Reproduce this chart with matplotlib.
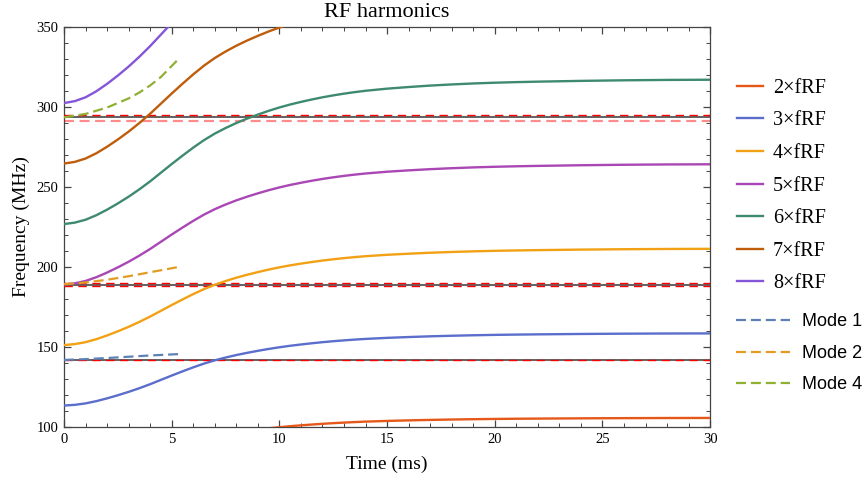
import matplotlib.pyplot as plt
from matplotlib.ticker import MultipleLocator
from matplotlib.lines import Line2D

# fundamental RF frequency (MHz) vs time (ms)
t_rf = [0, 0.5, 1, 1.5, 2, 2.5, 3, 3.5, 4, 4.5, 5, 5.5, 6, 6.5, 7, 7.5, 8, 8.5, 9, 9.5,
        10, 10.5, 11, 11.5, 12, 12.5, 13, 13.5, 14, 15, 16, 17, 18, 19, 20, 21, 22, 23,
        24, 25, 26, 27, 28, 29, 30]
f_rf = [37.80, 37.95, 38.25, 38.72, 39.30, 39.95, 40.65, 41.42, 42.25, 43.15, 44.05, 44.92,
        45.76, 46.54, 47.22, 47.80, 48.32, 48.78, 49.20, 49.59, 49.94, 50.25, 50.52, 50.77,
        51.00, 51.20, 51.38, 51.54, 51.68, 51.90, 52.07, 52.22, 52.34, 52.44, 52.52, 52.58,
        52.63, 52.67, 52.71, 52.74, 52.77, 52.79, 52.81, 52.82, 52.83]

harmonics = [2, 3, 4, 5, 6, 7, 8]
harm_colors = ['#E5581A', '#5B6ECB', '#F2A114', '#A947B5', '#3E8A6F', '#BF5D0B', '#8556D8']

# cavity modes (dashed)
mode_t = [0, 1, 2, 3, 4, 5.4]
mode1 = [141.9, 142.4, 143.1, 143.9, 144.7, 145.6]
mode2 = [189.2, 190.3, 192.0, 194.2, 196.7, 200.2]
mode4_t = [0, 1, 2, 3, 3.5, 4, 4.5, 5.25]
mode4 = [293.5, 295.6, 299.6, 305.3, 309.0, 313.4, 318.7, 329.0]
mode_names = ['Mode 1', 'Mode 2', 'Mode 4']
mode_colors = ['#5E81B5', '#E19C24', '#8FB032']

# horizontal reference levels (MHz)
gray_levels = [141.9, 189.0, 293.5]
red_levels = [141.9, 188.3, 189.7, 295.0]
pink_levels = [291.4]

serif = 'Liberation Serif'

fig = plt.figure(figsize=(8.65, 4.8), dpi=100)
ax = fig.add_axes([0.074, 0.1104, 0.747, 0.8336])

for y in gray_levels:
    ax.axhline(y, color='#555555', lw=1.3, zorder=2)
for y in red_levels:
    ax.axhline(y, color='#FF0000', lw=1.0, dashes=(6, 4), zorder=3)
for y in pink_levels:
    ax.axhline(y, color='#FF0000', alpha=0.45, lw=1.6, dashes=(4.5, 2.5), zorder=3)

harm_handles = []
for n, c in zip(harmonics, harm_colors):
    ax.plot(t_rf, [n * f for f in f_rf], color=c, lw=1.7, zorder=4)
    harm_handles.append(Line2D([], [], color=c, lw=1.7))

mode_handles = []
for tt, yy, c in zip([mode_t, mode_t, mode4_t], [mode1, mode2, mode4], mode_colors):
    ax.plot(tt, yy, color=c, lw=1.6, dashes=(4.5, 2.2), zorder=5)
    mode_handles.append(Line2D([], [], color=c, lw=1.6, dashes=(4.5, 2.2)))

ax.set_xlim(0, 30)
ax.set_ylim(100, 350)
ax.xaxis.set_major_locator(MultipleLocator(5))
ax.xaxis.set_minor_locator(MultipleLocator(1))
ax.yaxis.set_major_locator(MultipleLocator(50))
ax.yaxis.set_minor_locator(MultipleLocator(10))
ax.tick_params(which='both', direction='in', top=True, right=True, color='#444444')
ax.tick_params(which='major', length=5, width=0.9, labelsize=10.5, pad=4)
ax.tick_params(which='minor', length=3, width=0.7)
for lab in ax.get_xticklabels() + ax.get_yticklabels():
    lab.set_family(serif)
for s in ax.spines.values():
    s.set_color('#444444')
    s.set_linewidth(0.9)

ax.set_title('RF harmonics', family=serif, fontsize=16, pad=7)
ax.set_xlabel('Time (ms)', family=serif, fontsize=14, labelpad=7)
ax.set_ylabel('Frequency (MHz)', family=serif, fontsize=14, labelpad=5)

leg1 = fig.legend(harm_handles, [f'{n}×fRF' for n in harmonics], loc='upper left',
                  bbox_to_anchor=(0.8517, 0.836), frameon=False, borderpad=0, borderaxespad=0,
                  handlelength=1.32, handletextpad=0.48, labelspacing=0.67,
                  prop={'family': serif, 'size': 14.5})
leg2 = fig.legend(mode_handles, mode_names, loc='upper left',
                  bbox_to_anchor=(0.851, 0.347), frameon=False, borderpad=0, borderaxespad=0,
                  handlelength=2.97, handletextpad=0.68, labelspacing=0.8,
                  prop={'family': 'Liberation Sans', 'size': 13})

fig.savefig('out.png', dpi=100)
